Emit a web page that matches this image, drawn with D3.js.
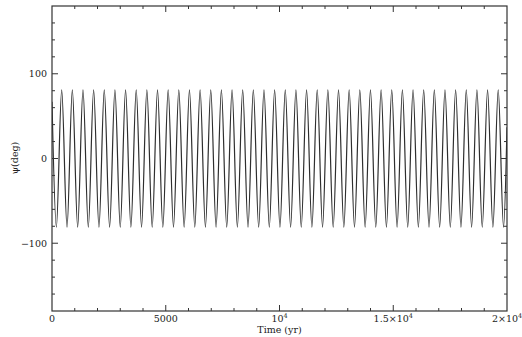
<!DOCTYPE html>
<html><head><meta charset="utf-8">
<script src="https://cdn.jsdelivr.net/npm/d3@7"></script>
<style>
body{margin:0;background:#fff;}
svg text{font-family:"DejaVu Serif","Liberation Serif",serif;fill:#222;}
</style></head>
<body><svg id="c" width="522" height="337"></svg>
<script>
// Extrema of psi(t) (time in yr, psi in deg)
const times = [0,192,426,660,894,1128,1362,1596,1830,2064,2298,2532,2766,3000,3234,3468,3702,3936,4170,4404,4638,4872,5106,5340,5574,5808,6042,6276,6510,6744,6978,7212,7446,7680,7914,8148,8382,8616,8850,9084,9318,9552,9786,10020,10254,10488,10722,10956,11190,11424,11658,11892,12126,12360,12594,12828,13062,13296,13530,13764,13998,14232,14466,14700,14934,15168,15402,15636,15870,16104,16338,16572,16806,17040,17274,17508,17742,17976,18210,18444,18678,18912,19146,19380,19614,19848,20000];
const psi = [67,-81,81,-81,81,-81,81,-81,81,-81,81,-81,81,-81,81,-81,81,-81,81,-81,81,-81,81,-81,81,-81,81,-81,81,-81,81,-81,81,-81,81,-81,81,-81,81,-81,81,-81,81,-81,81,-81,81,-81,81,-81,81,-81,81,-81,81,-81,81,-81,81,-81,81,-81,81,-81,81,-81,81,-81,81,-81,81,-81,81,-81,81,-81,81,-81,81,-81,81,-81,81,-81,81,-81,37];
const xMajor = [0,5000,10000,15000,20000];
const xLabels = ["0","5000","10^4","1.5×10^4","2×10^4"];
const yMajor = [-100,0,100];
const yLabels = ["−100","0","100"];

const svg = d3.select("#c");
const L=52,R=507,T=6,B=311;
const x = d3.scaleLinear().domain([0,20000]).range([L,R]);
const y = d3.scaleLinear().domain([-180,180]).range([B,T]);
const ink="#333";

const data = times.map((t,i)=>({t, v:psi[i]}));
svg.append("clipPath").attr("id","clp").append("rect").attr("x",L).attr("y",T).attr("width",R-L).attr("height",B-T);
svg.append("path").datum(data)
  .attr("clip-path","url(#clp)")
  .attr("fill","none").attr("stroke","#2e2e2e").attr("stroke-width",1.2)
  .attr("d", d3.line().x(d=>x(d.t)).y(d=>y(d.v)).curve(d3.curveMonotoneX));

// frame
svg.append("rect").attr("x",L).attr("y",T).attr("width",R-L).attr("height",B-T)
  .attr("fill","none").attr("stroke",ink).attr("stroke-width",1.2);

const g = svg.append("g").attr("stroke",ink).attr("stroke-width",1);
// x ticks (bottom & top, inward)
d3.range(0,20001,1000).forEach(v=>{
  const major = v%5000===0; const len = major?6:3;
  if(v===0||v===20000) return;
  g.append("line").attr("x1",x(v)).attr("x2",x(v)).attr("y1",B).attr("y2",B-len);
  g.append("line").attr("x1",x(v)).attr("x2",x(v)).attr("y1",T).attr("y2",T+len);
});
// y ticks (left & right, inward)
d3.range(-180,181,20).forEach(v=>{
  const major = v%100===0; const len = major?6:3;
  if(v===-180||v===180) return;
  g.append("line").attr("x1",L).attr("x2",L+len).attr("y1",y(v)).attr("y2",y(v));
  g.append("line").attr("x1",R).attr("x2",R-len).attr("y1",y(v)).attr("y2",y(v));
});

// x labels
xMajor.forEach((v,i)=>{
  const txt = svg.append("text").attr("x",x(v)).attr("y",322).attr("text-anchor","middle")
    .attr("font-size",9.5);
  const parts = xLabels[i].split("^");
  txt.append("tspan").text(parts[0]);
  if(parts[1]) txt.append("tspan").attr("dy",-4).attr("font-size",6.5).text(parts[1]);
});
// y labels
yMajor.forEach((v,i)=>{
  svg.append("text").attr("x",47).attr("y",y(v)+3.5).attr("text-anchor","end")
    .attr("font-size",9.5).text(yLabels[i]);
});
svg.append("text").attr("x",x(10000)).attr("y",333).attr("text-anchor","middle")
  .attr("font-size",9.5).text("Time (yr)");
svg.append("text").attr("transform","translate(18,158) rotate(-90)").attr("text-anchor","middle")
  .attr("font-size",9.5).text("ψ(deg)");
</script></body></html>
